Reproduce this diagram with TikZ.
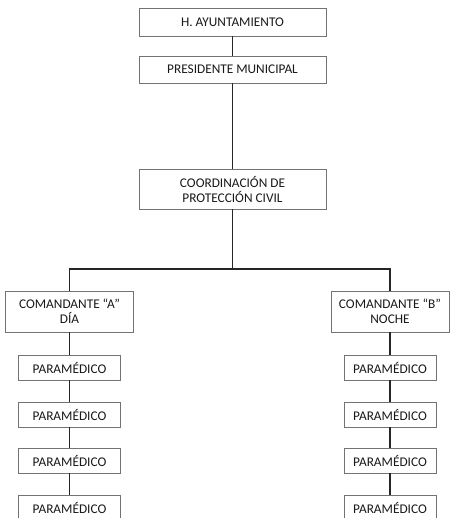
\documentclass[tikz,border=0pt]{standalone}
\usepackage{fontspec}
\setmainfont{Carlito}
\usetikzlibrary{positioning}

\begin{document}
\begin{tikzpicture}[x=1pt, y=-1pt,
    box/.style={draw=black!55, line width=0.9pt, fill=white, text=black!90,
        align=center, inner sep=0pt, font=\fontsize{13.3}{15}\selectfont},
    link/.style={line width=1.8pt, black!85}]

        % Frame
        \fill[white] (0,0) rectangle (452,518);
        \clip (0,0) rectangle (452,518);

        % Top of the chart
        \node[box, minimum width=187, minimum height=28] (ayto) at (232.5,22) {H. AYUNTAMIENTO};
        \node[box, minimum width=187, minimum height=27] (pres) at (232.5,69.5) {PRESIDENTE MUNICIPAL};
        \node[box, minimum width=187, minimum height=40] (coord) at (232.5,189) {COORDINACIÓN DE\\PROTECCIÓN CIVIL};

        % Commanders
        \node[box, minimum width=128, minimum height=41] (comA) at (69.5,311.5) {COMANDANTE “A”\\DÍA};
        \node[box, minimum width=118, minimum height=41] (comB) at (390,311.5) {COMANDANTE “B”\\NOCHE};

        % Bus below coordination
        \coordinate (bus) at (232.5,269);

        % Paramedics
        \foreach \i/\y in {1/367.5,2/414.5,3/460.5,4/507.5} {
            \node[box, minimum width=102, minimum height=25] (paraA\i) at (69.5,\y) {PARAMÉDICO};
            \node[box, minimum width=92, minimum height=25] (paraB\i) at (390,\y) {PARAMÉDICO};
        }

        % Links
        \draw[link] (ayto) -- (pres);
        \draw[link] (pres) -- (coord);
        \draw[link] (coord.south) -- (bus);
        \draw[link] (comA.north) |- (bus) -| (comB.north);
        \draw[link] (comA) -- (paraA1);
        \draw[link] (comB) -- (paraB1);
        \foreach \i/\j in {1/2,2/3,3/4} {
            \draw[link] (paraA\i) -- (paraA\j);
            \draw[link] (paraB\i) -- (paraB\j);
        }
\end{tikzpicture}
\end{document}
